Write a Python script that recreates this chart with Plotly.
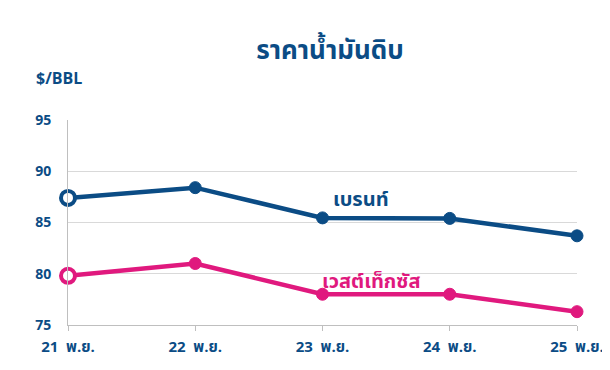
import plotly.graph_objects as go

dates = ["21 พ.ย.", "22 พ.ย.", "23 พ.ย.", "24 พ.ย.", "25 พ.ย."]
brent = [87.4, 88.4, 85.45, 85.4, 83.7]
wti = [79.8, 81.0, 78.0, 78.0, 76.3]
ytick_vals = [75, 80, 85, 90, 95]

BLUE = "#0B4C85"
PINK = "#E0197E"
FONT = "Tahoma, 'Noto Sans Thai', 'DejaVu Sans', sans-serif"

# page has an 8px body margin: figure occupies page x 8..610, y 8..370
W, H = 602, 362
OFF = 8

x = list(range(len(dates)))

fig = go.Figure()
for vals, col in [(brent, BLUE), (wti, PINK)]:
    fig.add_trace(go.Scatter(
        x=x, y=vals, mode="lines+markers",
        line=dict(color=col, width=4.5),
        marker=dict(size=[14] + [12] * (len(vals) - 1), opacity=1,
                    color=["white"] + [col] * (len(vals) - 1),
                    line=dict(color=col, width=[4] + [1] * (len(vals) - 1))),
        showlegend=False, cliponaxis=False, hoverinfo="skip"))

fig.add_annotation(x=2.3, y=87.2, text="<b>เบรนท์</b>", showarrow=False,
                   font=dict(color=BLUE, size=20, family=FONT), xanchor="center")
fig.add_annotation(x=2.38, y=79.2, text="<b>เวสต์เท็กซัส</b>", showarrow=False,
                   font=dict(color=PINK, size=20, family=FONT), xanchor="center")

fig.update_layout(
    width=W, height=H,
    margin=dict(l=68 - OFF, r=33, t=120 - OFF, b=45),
    paper_bgcolor="white", plot_bgcolor="white",
    title=dict(text="<b>ราคาน้ำมันดิบ</b>", x=(330 - OFF) / W, xanchor="center",
               y=1 - (50 - OFF) / H, yanchor="middle", yref="container",
               font=dict(size=26, color=BLUE, family=FONT)),
    font=dict(family=FONT, color=BLUE),
)
fig.add_annotation(xref="paper", yref="paper", x=(34 - 68) / 509, y=(325 - 79) / 205,
                   xanchor="left", yanchor="middle",
                   text="<b>$/BBL</b>", showarrow=False, font=dict(size=16, color=BLUE, family=FONT))

fig.update_xaxes(range=[0, 4], tickvals=x, ticktext=[f"<b>{d.replace(' ', '  ')}</b>" for d in dates],
                 showgrid=False, zeroline=False, showline=True, linecolor="#BFBFBF", linewidth=1,
                 ticks="outside", ticklen=5, tickcolor="#BFBFBF", automargin=False,
                 ticklabelstandoff=3,
                 tickfont=dict(size=15, color=BLUE, family=FONT))
fig.update_yaxes(range=[75, 95], tickvals=ytick_vals, ticktext=[f"<b>{v}</b>" for v in ytick_vals],
                 showgrid=True, gridcolor="#D9D9D9", gridwidth=1, zeroline=False,
                 showline=True, linecolor="#BFBFBF", linewidth=1, ticks="", ticklabelstandoff=13,
                 automargin=False, tickfont=dict(size=14, color=BLUE, family=FONT))

fig.write_html("out.html")
